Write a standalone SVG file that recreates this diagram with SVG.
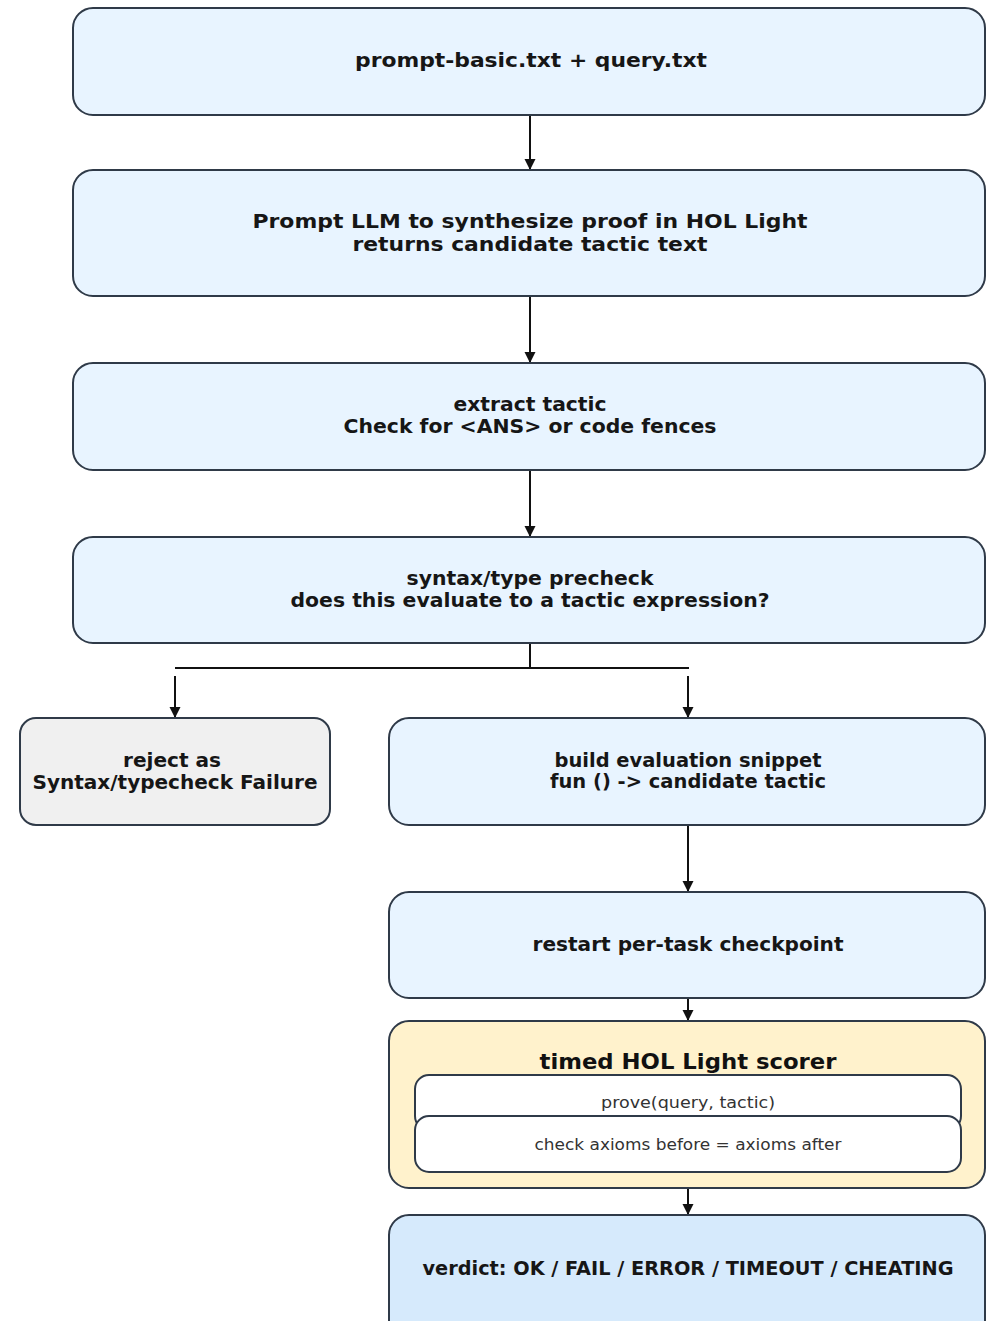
<svg xmlns="http://www.w3.org/2000/svg" width="986" height="1321" viewBox="0 0 986 1321">
<defs>
<marker id="ah" markerWidth="12" markerHeight="12" refX="11" refY="6" orient="auto" markerUnits="userSpaceOnUse" viewBox="0 0 12 12">
<path d="M0,0.5 L11,6 L0,11.5 Z" fill="#111"/>
</marker>
</defs>
<style>
.box{fill:#e8f4ff;stroke:#2f3a48;stroke-width:2}
.grey{fill:#f0f0f0;stroke:#2f3a48;stroke-width:2}
.yel{fill:#fff2cc;stroke:#2f3a48;stroke-width:2}
.inner{fill:#ffffff;stroke:#2f3a48;stroke-width:2}
.ver{fill:#d6eafc;stroke:#2f3a48;stroke-width:2}
.t{font-family:"DejaVu Sans",sans-serif;font-weight:bold;font-size:19px;fill:#161616;text-anchor:middle}
.tt{font-family:"DejaVu Sans",sans-serif;font-weight:bold;font-size:21px;fill:#111;text-anchor:middle}
.s{font-family:"DejaVu Sans",sans-serif;font-size:15.5px;fill:#333;text-anchor:middle}
.c{stroke:#111;stroke-width:2;fill:none}
</style>
<g id="connectors">
<line class="c" x1="530" y1="115" x2="530" y2="170" marker-end="url(#ah)"/>
<line class="c" x1="530" y1="296" x2="530" y2="363" marker-end="url(#ah)"/>
<line class="c" x1="530" y1="470" x2="530" y2="537" marker-end="url(#ah)"/>
<polyline class="c" points="530,643 530,668"/>
<line class="c" x1="175" y1="668" x2="689" y2="668"/>
<line class="c" x1="175" y1="676" x2="175" y2="718" marker-end="url(#ah)"/>
<line class="c" x1="688" y1="676" x2="688" y2="718" marker-end="url(#ah)"/>
<line class="c" x1="688" y1="825" x2="688" y2="892" marker-end="url(#ah)"/>
<line class="c" x1="688" y1="998" x2="688" y2="1021" marker-end="url(#ah)"/>
<line class="c" x1="688" y1="1188" x2="688" y2="1215" marker-end="url(#ah)"/>
</g>
<g id="n1">
<rect class="box" x="73" y="8" width="912" height="107" rx="20"/>
<text class="t" x="531" y="67" textLength="352" lengthAdjust="spacingAndGlyphs">prompt-basic.txt + query.txt</text>
</g>
<g id="n2">
<rect class="box" x="73" y="170" width="912" height="126" rx="20"/>
<text class="t" x="530" y="228" textLength="555" lengthAdjust="spacingAndGlyphs">Prompt LLM to synthesize proof in HOL Light</text>
<text class="t" x="530" y="251" textLength="355" lengthAdjust="spacingAndGlyphs">returns candidate tactic text</text>
</g>
<g id="n3">
<rect class="box" x="73" y="363" width="912" height="107" rx="20"/>
<text class="t" x="530" y="411" textLength="153" lengthAdjust="spacingAndGlyphs">extract tactic</text>
<text class="t" x="530" y="433" textLength="373" lengthAdjust="spacingAndGlyphs">Check for &lt;ANS&gt; or code fences</text>
</g>
<g id="n4">
<rect class="box" x="73" y="537" width="912" height="106" rx="20"/>
<text class="t" x="530" y="585" textLength="247" lengthAdjust="spacingAndGlyphs">syntax/type precheck</text>
<text class="t" x="530" y="607" textLength="479" lengthAdjust="spacingAndGlyphs">does this evaluate to a tactic expression?</text>
</g>
<g id="n5">
<rect class="grey" x="20" y="718" width="310" height="107" rx="16"/>
<text class="t" x="172" y="767" textLength="98" lengthAdjust="spacingAndGlyphs">reject as</text>
<text class="t" x="175" y="789" textLength="285" lengthAdjust="spacingAndGlyphs">Syntax/typecheck Failure</text>
</g>
<g id="n6">
<rect class="box" x="389" y="718" width="596" height="107" rx="20"/>
<text class="t" x="688" y="767" textLength="267" lengthAdjust="spacingAndGlyphs">build evaluation snippet</text>
<text class="t" x="688" y="788" textLength="276" lengthAdjust="spacingAndGlyphs">fun () -&gt; candidate tactic</text>
</g>
<g id="n7">
<rect class="box" x="389" y="892" width="596" height="106" rx="20"/>
<text class="t" x="688" y="951" textLength="311" lengthAdjust="spacingAndGlyphs">restart per-task checkpoint</text>
</g>
<g id="n8">
<rect class="yel" x="389" y="1021" width="596" height="167" rx="20"/>
<text class="tt" x="688" y="1069" textLength="297" lengthAdjust="spacingAndGlyphs">timed HOL Light scorer</text>
<g id="n8a">
<rect class="inner" x="415" y="1075" width="546" height="55" rx="14"/>
<text class="s" x="688" y="1108" textLength="174" lengthAdjust="spacingAndGlyphs">prove(query, tactic)</text>
</g>
<g id="n8b">
<rect class="inner" x="415" y="1116" width="546" height="56" rx="14"/>
<text class="s" x="688" y="1150" textLength="307" lengthAdjust="spacingAndGlyphs">check axioms before = axioms after</text>
</g>
</g>
<g id="n9">
<rect class="ver" x="389" y="1215" width="596" height="125" rx="20"/>
<text class="t" x="688" y="1275" textLength="531" lengthAdjust="spacingAndGlyphs">verdict: OK / FAIL / ERROR / TIMEOUT / CHEATING</text>
</g>
</svg>
